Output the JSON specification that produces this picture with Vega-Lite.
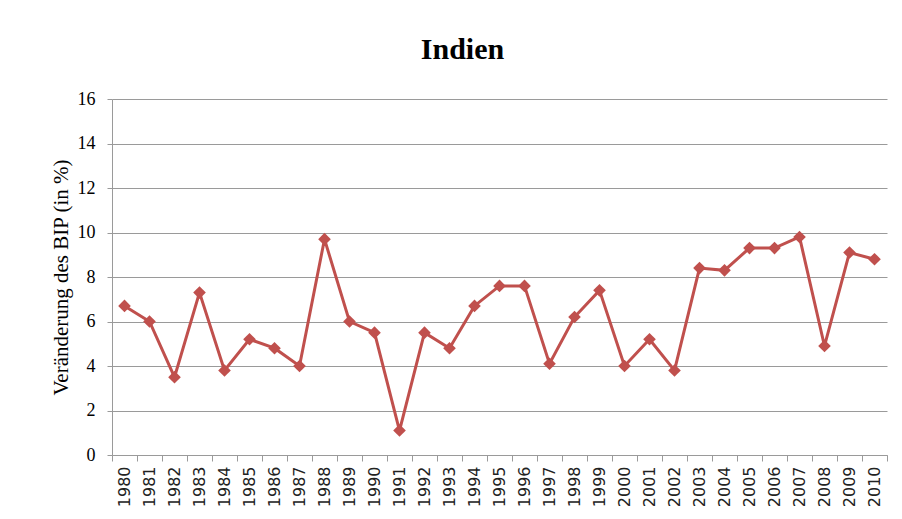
{
  "$schema": "https://vega.github.io/schema/vega-lite/v6.json",
  "width": 775,
  "height": 356,
  "autosize": {"type": "none"},
  "padding": {"left": 112, "top": 99, "right": 15, "bottom": 64},
  "background": "white",
  "title": {
    "text": "Indien",
    "font": "Liberation Serif",
    "fontSize": 30,
    "fontWeight": "bold",
    "color": "black",
    "anchor": "middle",
    "dx": -37,
    "offset": 25
  },
  "data": {
    "values": [
      {"year": "1980", "value": 6.7},
      {"year": "1981", "value": 6.0},
      {"year": "1982", "value": 3.5},
      {"year": "1983", "value": 7.3},
      {"year": "1984", "value": 3.8},
      {"year": "1985", "value": 5.2},
      {"year": "1986", "value": 4.8},
      {"year": "1987", "value": 4.0},
      {"year": "1988", "value": 9.7},
      {"year": "1989", "value": 6.0},
      {"year": "1990", "value": 5.5},
      {"year": "1991", "value": 1.1},
      {"year": "1992", "value": 5.5},
      {"year": "1993", "value": 4.8},
      {"year": "1994", "value": 6.7},
      {"year": "1995", "value": 7.6},
      {"year": "1996", "value": 7.6},
      {"year": "1997", "value": 4.1},
      {"year": "1998", "value": 6.2},
      {"year": "1999", "value": 7.4},
      {"year": "2000", "value": 4.0},
      {"year": "2001", "value": 5.2},
      {"year": "2002", "value": 3.8},
      {"year": "2003", "value": 8.4},
      {"year": "2004", "value": 8.3},
      {"year": "2005", "value": 9.3},
      {"year": "2006", "value": 9.3},
      {"year": "2007", "value": 9.8},
      {"year": "2008", "value": 4.9},
      {"year": "2009", "value": 9.1},
      {"year": "2010", "value": 8.8}
    ]
  },
  "encoding": {
    "x": {
      "field": "year",
      "type": "ordinal",
      "scale": {"paddingInner": 0, "paddingOuter": 0},
      "axis": {
        "title": null,
        "labelAngle": 270,
        "labelAlign": "right",
        "labelBaseline": "middle",
        "labelFont": "DejaVu Sans",
        "labelFontSize": 16,
        "labelColor": "#222222",
        "labelPadding": 5,
        "tickBand": "extent",
        "tickSize": 6,
        "tickColor": "#9a9a9a",
        "domainColor": "#9a9a9a",
        "grid": false
      }
    },
    "y": {
      "field": "value",
      "type": "quantitative",
      "scale": {"domain": [0, 16], "nice": false},
      "axis": {
        "title": "Veränderung des BIP (in %)",
        "titleFont": "Liberation Serif",
        "titleFontSize": 21,
        "titleFontWeight": "normal",
        "titleColor": "black",
        "titlePadding": 6,
        "values": [0, 2, 4, 6, 8, 10, 12, 14, 16],
        "labelFont": "Liberation Serif",
        "labelFontSize": 18,
        "labelColor": "black",
        "labelPadding": 12,
        "tickSize": 5,
        "tickColor": "#9a9a9a",
        "domainColor": "#9a9a9a",
        "grid": true,
        "gridColor": "#9a9a9a",
        "gridWidth": 1
      }
    }
  },
  "layer": [
    {
      "mark": {"type": "line", "color": "#c0504d", "strokeWidth": 3}
    },
    {
      "mark": {"type": "point", "shape": "diamond", "filled": true, "size": 160, "color": "#c0504d", "opacity": 1}
    }
  ],
  "config": {
    "view": {"stroke": null}
  }
}
